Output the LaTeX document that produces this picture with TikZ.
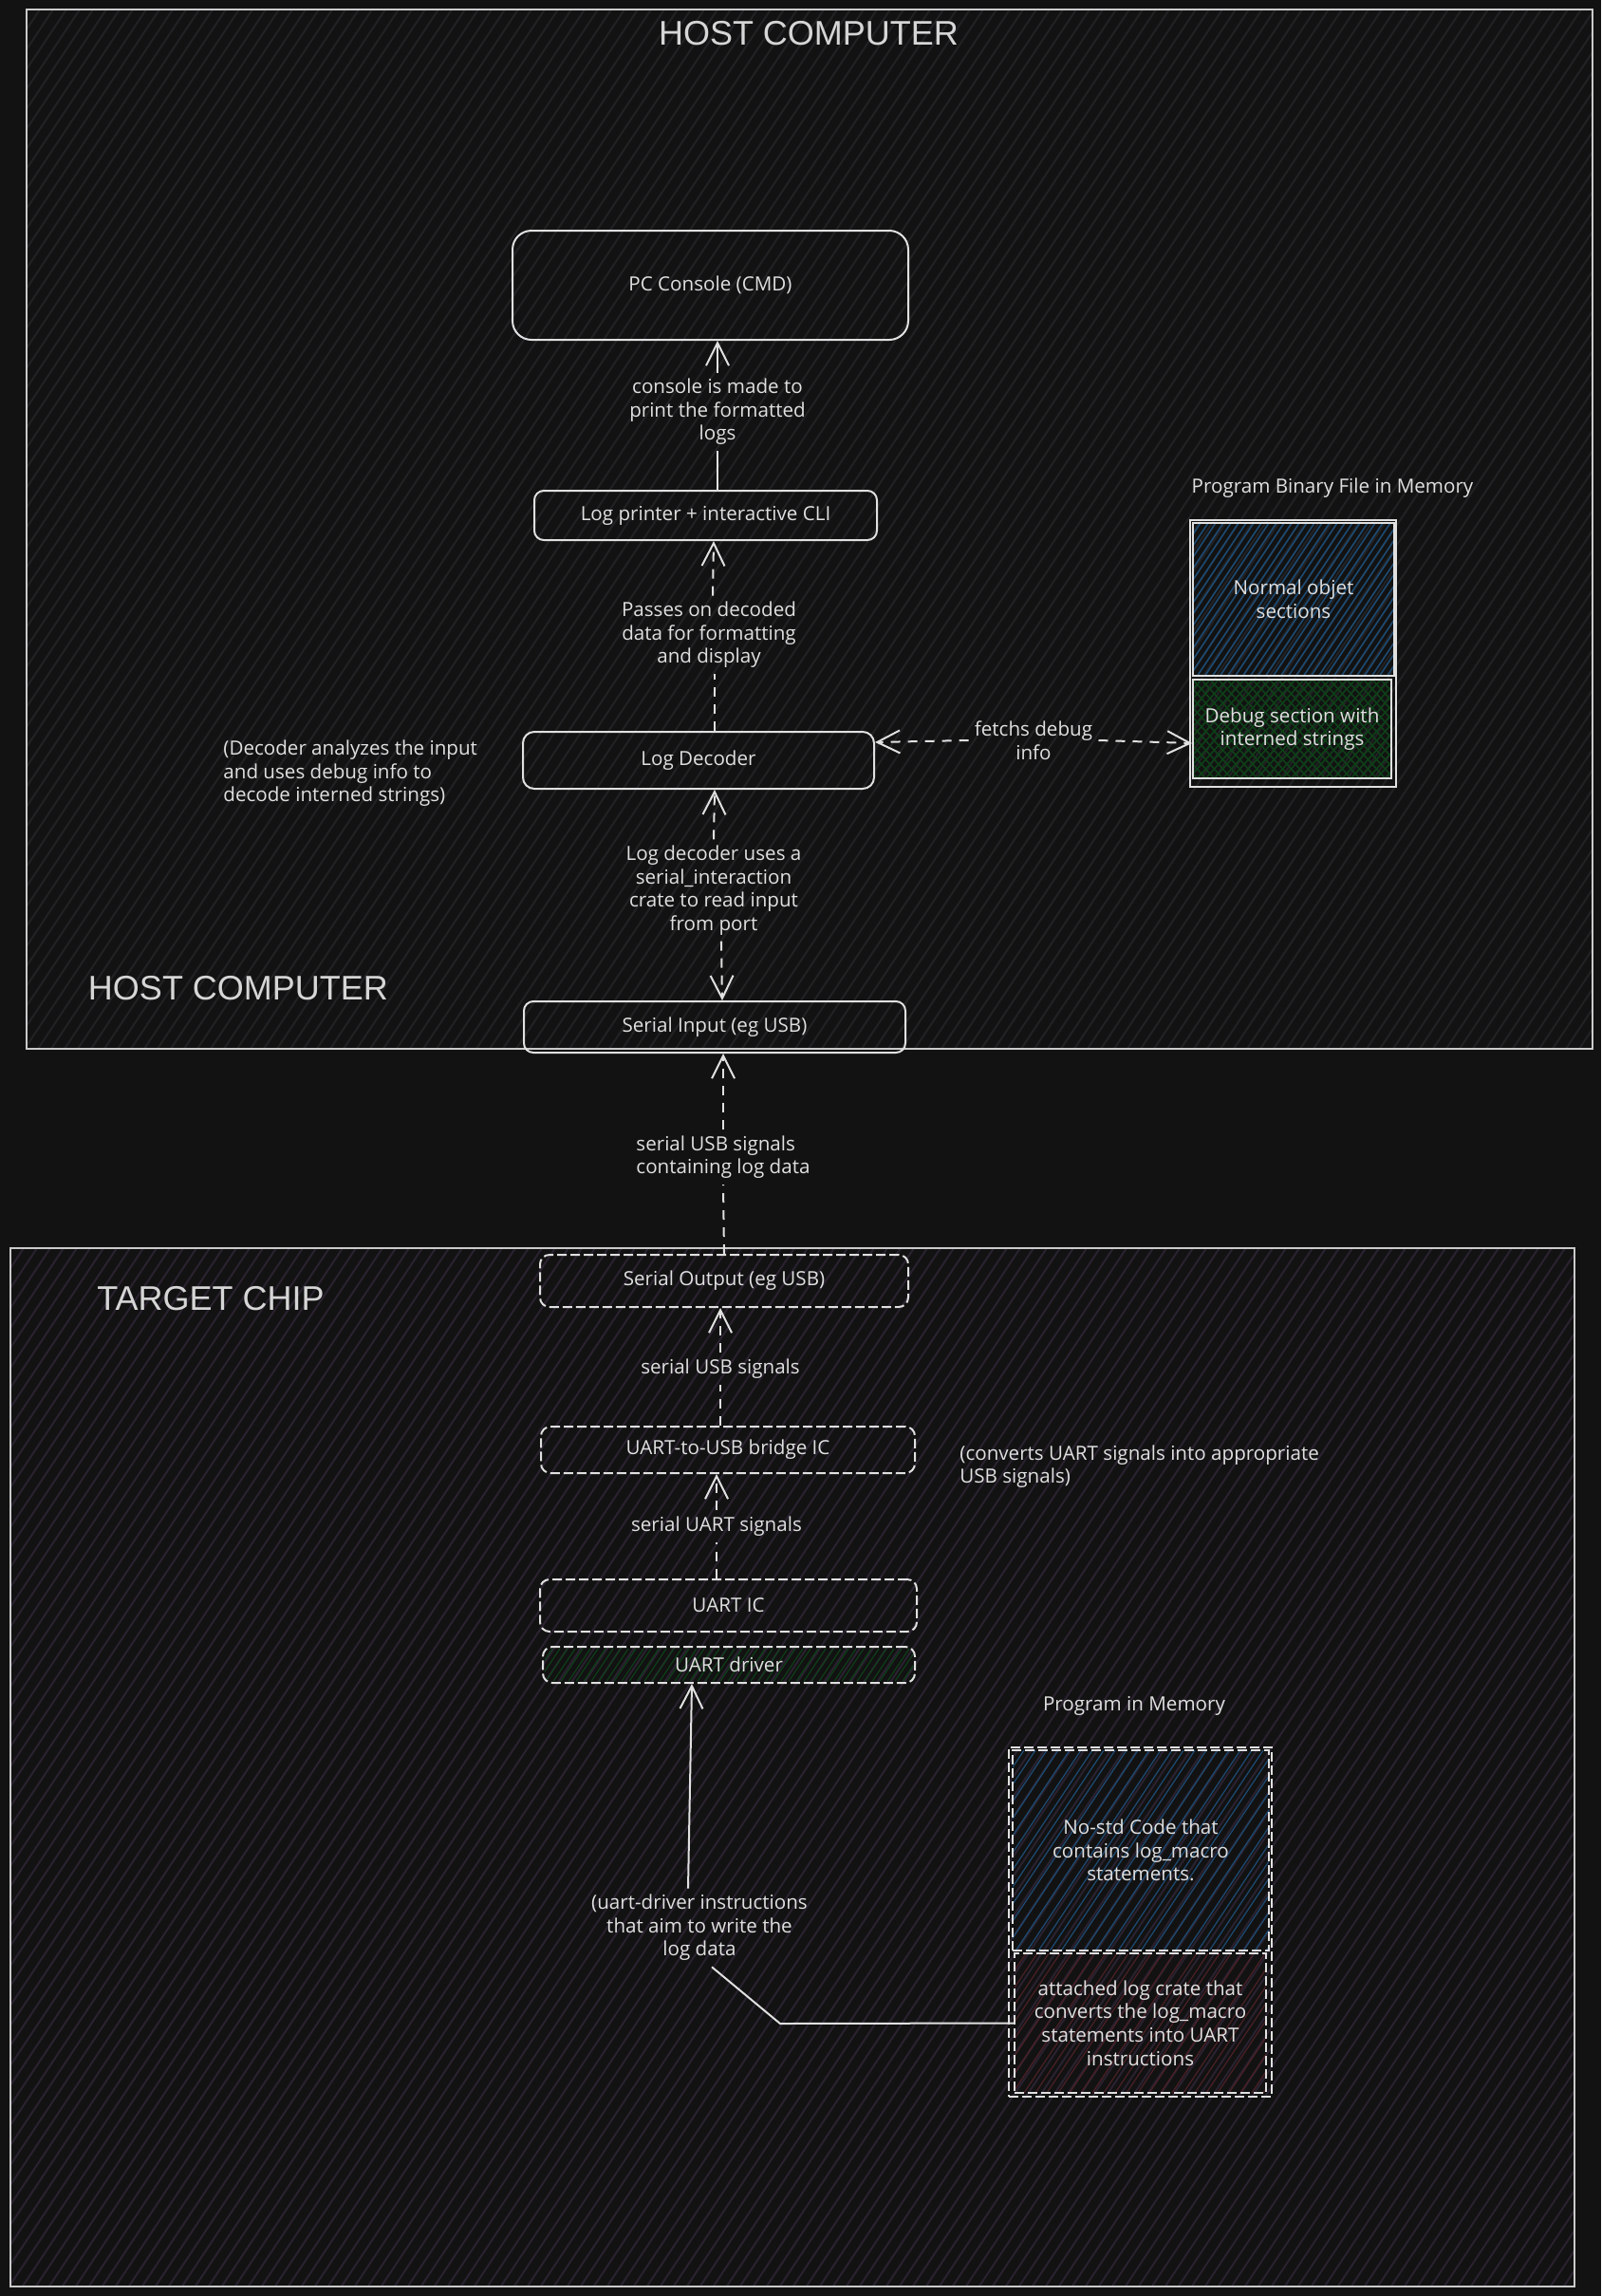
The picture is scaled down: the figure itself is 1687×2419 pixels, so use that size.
\documentclass[tikz,border=0pt]{standalone}
\usepackage{fontspec}
\setmainfont{Open Sans}
\newfontfamily\titlefont{Liberation Sans}
\usetikzlibrary{arrows.meta,calc}
\definecolor{bg}{HTML}{121212}
\definecolor{fg}{HTML}{E0E0E0}
\definecolor{hostline}{HTML}{222225}
\definecolor{tgtline}{HTML}{2A2230}
\definecolor{bluehatch}{HTML}{1D4A72}
\definecolor{greenhatch}{HTML}{0E4018}
\definecolor{redhatch}{HTML}{4A2026}
\definecolor{titlec}{HTML}{D6D6D6}
% #1 style, #2 x1, #3 y1, #4 x2, #5 y2, #6 spacing, #7 slope
\newcommand\myhatch[7]{%
  \begin{scope}
    \clip (#2,#3) rectangle (#4,#5);
    \pgfmathsetmacro\hd{(#5-#3)/(#7)}
    \pgfmathsetmacro\ha{#2-abs(\hd)}
    \pgfmathsetmacro\hb{\ha+#6}
    \pgfmathsetmacro\hc{#4+abs(\hd)}
    \foreach \hx in {\ha,\hb,...,\hc} \draw[#1] (\hx,#5) -- ++(\hd,{-(#5-#3)});
  \end{scope}}
\begin{document}
\begin{tikzpicture}[x=0.5pt,y=-0.5pt,
  lbl/.style={text=fg, font=\fontsize{10.3}{12.3}\selectfont, align=center, inner sep=3pt},
  hbox/.style={draw=fg, line width=1pt, rounded corners=5pt, inner sep=0pt, text=fg, font=\fontsize{10.3}{12.3}\selectfont, align=center},
  tbox/.style={hbox, dash pattern=on 5pt off 2pt},
  secbox/.style={draw=fg, line width=0.9pt, inner sep=0pt, text=fg, font=\fontsize{10.3}{12.3}\selectfont, align=center},
  conn/.style={draw=fg, line width=1pt},
  dconn/.style={conn, dash pattern=on 5pt off 4pt},
  arrowend/.style={-{Straight Barb[length=12pt,width=12pt]}},
  bigtitle/.style={text=titlec, font=\titlefont\fontsize{18}{20}\selectfont, inner sep=0pt},
  region/.style={draw=fg!90!black, line width=1pt}]
\useasboundingbox (0,0) rectangle (1687,2419);
\fill[bg] (0,0) rectangle (1687,2419);
% region hatching
\myhatch{hostline,line width=1pt}{28}{10}{1678}{1105}{14}{1.5}
\myhatch{tgtline,line width=1pt}{11}{1315}{1659}{2409}{14}{1.5}
% section fills
\myhatch{bluehatch,line width=0.8pt}{1257}{551}{1469}{712}{8}{1.5}
\myhatch{greenhatch,line width=0.8pt}{1257}{716}{1466}{820}{9}{1.1}
\myhatch{greenhatch,line width=0.8pt}{1257}{716}{1466}{820}{9}{-1.1}
\myhatch{bluehatch,line width=0.6pt}{1067}{1844}{1337}{2055}{12}{1.5}
\myhatch{redhatch,line width=0.6pt}{1069}{2058}{1334}{2205}{12}{1.5}
\myhatch{greenhatch,line width=0.6pt}{574}{1737}{962}{1771}{8}{1.5}
% region borders
\draw[region] (28,10) rectangle (1678,1105);
\draw[region] (11,1315) rectangle (1659,2409);
% titles
\node[bigtitle] (ht1) at (852,35) {HOST COMPUTER};
\node[bigtitle] (ht2) at (251,1041) {HOST COMPUTER};
\node[bigtitle] (tt) at (222,1368) {TARGET CHIP};
% host boxes
\node[hbox, rounded corners=10pt, minimum width=208.5pt, minimum height=57.5pt] (pc) at (748.5,300.5) {PC Console (CMD)};
\node[hbox, minimum width=180.5pt, minimum height=26pt] (printer) at (743.5,543) {Log printer + interactive CLI};
\node[hbox, rounded corners=6pt, minimum width=185pt, minimum height=30pt] (decoder) at (736,801) {Log Decoder};
\node[hbox, minimum width=201pt, minimum height=27pt] (serin) at (753,1082) {Serial Input (eg USB)};
% binary file
\node[draw=fg, line width=1.2pt, minimum width=108.5pt, minimum height=140.5pt, inner sep=0pt] (binfile) at (1362.5,688.5) {};
\node[secbox, minimum width=106pt, minimum height=80.5pt] (normal) at (1363,631.5) {Normal objet\\sections};
\node[secbox, minimum width=104.5pt, minimum height=52pt] (debugsec) at (1361.5,768) {Debug section with\\interned strings};
\node[lbl] (lbin) at (1404,514) {Program Binary File in Memory};
% target boxes
\node[tbox, minimum width=194pt, minimum height=27.5pt] (serout) at (763,1349.5) {Serial Output (eg USB)};
\node[tbox, minimum width=197pt, minimum height=24.5pt] (bridge) at (767,1527.5) {UART-to-USB bridge IC};
\node[tbox, minimum width=198.5pt, minimum height=27.5pt] (uartic) at (767.5,1691.5) {UART IC};
\node[tbox, minimum width=196pt, minimum height=19pt] (uartdrv) at (768,1754) {UART driver};
% program in memory
\node[secbox, dash pattern=on 5pt off 2pt, line width=1.2pt, minimum width=138.5pt, minimum height=184pt] (mem) at (1201.5,2025) {};
\node[secbox, dash pattern=on 5pt off 2pt, minimum width=135pt, minimum height=105.5pt] (nostd) at (1202,1949.5) {No-std Code that\\contains log\_macro\\statements.};
\node[secbox, dash pattern=on 5pt off 2pt, minimum width=132.5pt, minimum height=73.5pt] (crate) at (1201.5,2131.5) {attached log crate that\\converts the log\_macro\\statements into UART\\instructions};
\node[lbl] (lmem) at (1195,1797) {Program in Memory};
% labels
\node[lbl] (lconsole) at (756,434) {console is made to\\print the formatted\\logs};
\node[lbl] (lpasses) at (747,669) {Passes on decoded\\data for formatting\\and display};
\node[lbl] (lserial) at (752,938) {Log decoder uses a\\serial\_interaction\\crate to read input\\from port};
\node[lbl] (lfetch) at (1089,780) {fetchs debug\\info};
\node[lbl, align=left] (lusb) at (762,1219) {serial USB signals\\containing log data};
\node[lbl] (lusb2) at (759,1442) {serial USB signals};
\node[lbl] (luart) at (755,1608) {serial UART signals};
\node[lbl] (ldrv) at (737,2031) {(uart-driver instructions\\that aim to write the\\log data};
\node[lbl, align=left, anchor=west] (ndec) at (229,815) {(Decoder analyzes the input\\and uses debug info to\\decode interned strings)};
\node[lbl, align=left, anchor=west] (nbridge) at (1005,1545) {(converts UART signals into appropriate\\USB signals)};
% connectors
\draw[conn] ([xshift=6.25pt]printer.north) -- (lconsole.south);
\draw[conn,arrowend] (lconsole.north) -- ([xshift=3.75pt]pc.south);
\draw[dconn] ([xshift=8.5pt]decoder.north) -- ([xshift=3pt]lpasses.south);
\draw[dconn,arrowend] ([xshift=2pt]lpasses.north) -- ([xshift=4.25pt]printer.south);
\draw[dconn,arrowend] (lserial.north) -- ([xshift=8.5pt]decoder.south);
\draw[dconn,arrowend] ([xshift=4pt]lserial.south) -- ([xshift=4pt]serin.north);
\draw[dconn,arrowend] (lfetch.west) -- ([yshift=9.5pt]decoder.east);
\draw[dconn,arrowend] (lfetch.east) -- ([yshift=-7.5pt]debugsec.west);
\draw[dconn] (serout.north) -- (lusb.south);
\draw[dconn,arrowend] (lusb.north) -- ([xshift=4.5pt]serin.south);
\draw[dconn] ([xshift=-4pt]bridge.north) -- (lusb2.south);
\draw[dconn,arrowend] (lusb2.north) -- ([xshift=-2pt]serout.south);
\draw[dconn] ([xshift=-6.25pt]uartic.north) -- (luart.south);
\draw[dconn,arrowend] (luart.north) -- ([xshift=-6pt]bridge.south);
\draw[conn,arrowend] ([xshift=-6pt]ldrv.north) -- ([xshift=-19.5pt]uartdrv.south);
\coordinate (bend) at (822,2132);
\draw[conn] ([xshift=6.5pt]ldrv.south) -- (bend) -- (crate.west);
\end{tikzpicture}
\end{document}
